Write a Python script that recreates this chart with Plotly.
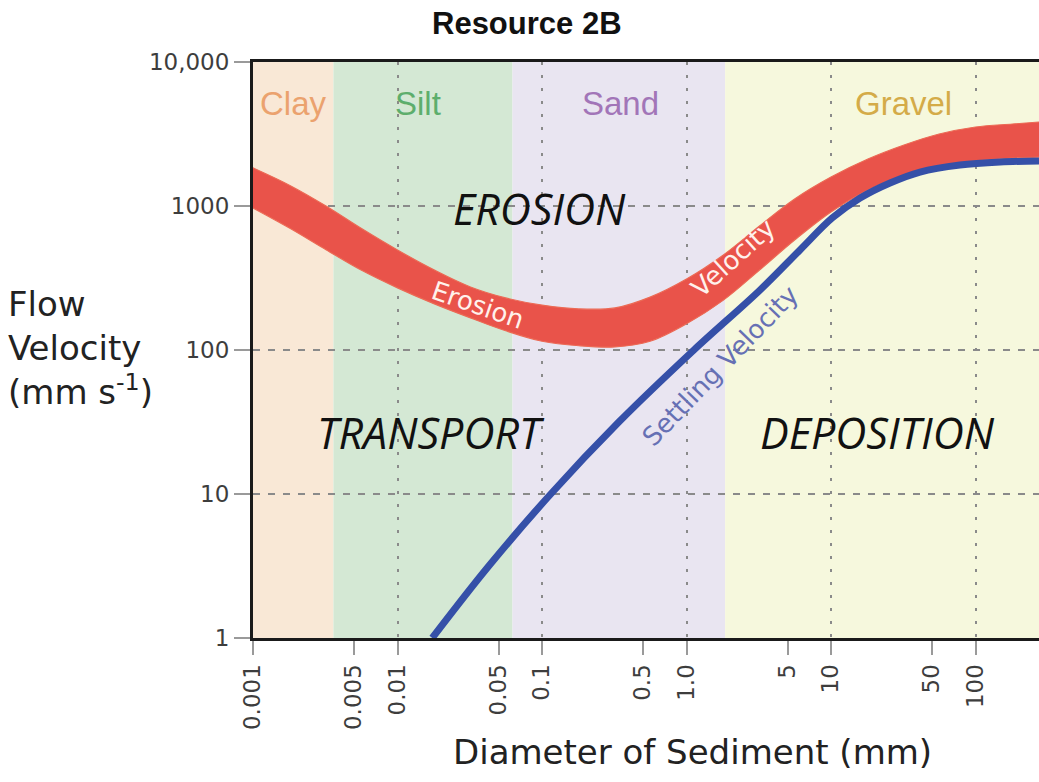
import numpy as np
import plotly.graph_objects as go

# ---------------- data ----------------
class_names = ["Clay", "Silt", "Sand", "Gravel"]
class_bounds = [0.001, 0.0036, 0.0625, 1.85, 1000]
class_fill = ["#F9E8D6", "#D4E8D4", "#E9E5F1", "#F6F8DD"]
class_text_color = ["#EBA26E", "#5DAE6C", "#A275B8", "#D4AB48"]

# erosion velocity band (diameter mm, upper / lower edge in mm/s)
eros_d = [0.001, 0.0018, 0.0032, 0.0056, 0.01, 0.018, 0.032, 0.056, 0.1, 0.18, 0.32, 0.56,
          1.0, 1.8, 3.2, 5.6, 10, 18, 32, 56, 100, 180, 275]
eros_upper = [1840, 1390, 1000, 700, 495, 359, 274, 230, 205, 193, 196, 233,
              311, 457, 726, 1119, 1589, 2119, 2652, 3162, 3538, 3710, 3830]
eros_lower = [968, 700, 497, 359, 270, 209, 167, 136, 115, 107, 105, 115,
              152, 222, 359, 580, 908, 1291, 1641, 1896, 2054, 2154, 2188]

# settling velocity line
settle_d = [0.0174, 0.0428, 0.115, 0.34, 1.125, 3.23, 6.1, 10.2, 15.9, 25.6, 41.3, 78, 148, 275]
settle_v = [1, 3.16, 10, 31.6, 100, 261, 495, 826, 1136, 1445, 1722, 1927, 2022, 2054]

x_tick_vals = [0.001, 0.005, 0.01, 0.05, 0.1, 0.5, 1, 5, 10, 50, 100]
x_tick_text = ["0.001", "0.005", "0.01", "0.05", "0.1", "0.5", "1.0", "5", "10", "50", "100"]
x_grid_vals = [0.01, 0.1, 1, 10, 100]
y_tick_vals = [1, 10, 100, 1000, 10000]
y_tick_text = ["1", "10", "100", "1000", "10,000"]

X_MAX = 275

fig = go.Figure()

# erosion band
fig.add_trace(go.Scatter(x=eros_d, y=eros_lower, mode="lines",
                         line=dict(color="#EC6A55", width=1.2, shape="spline", smoothing=1.0),
                         hoverinfo="skip", showlegend=False))
fig.add_trace(go.Scatter(x=eros_d, y=eros_upper, mode="lines", fill="tonexty",
                         fillcolor="#E9534A",
                         line=dict(color="#EC6A55", width=1.2, shape="spline", smoothing=1.0),
                         hoverinfo="skip", showlegend=False))
# settling velocity line (on overlay axis carrying the dotted grid)
fig.add_trace(go.Scatter(x=settle_d, y=settle_v, mode="lines", xaxis="x2",
                         line=dict(color="#3550A8", width=7, shape="spline", smoothing=1.0),
                         hoverinfo="skip", showlegend=False))

# size-class background bands
for i, name in enumerate(class_names):
    fig.add_shape(type="rect", xref="x", yref="paper",
                  x0=class_bounds[i], x1=class_bounds[i + 1], y0=0, y1=1,
                  fillcolor=class_fill[i], line=dict(width=0), layer="below")

ann = []
label_x = [-2.72, -1.86, -0.46, 1.50]
for i, name in enumerate(class_names):
    ann.append(dict(x=label_x[i], y=3.715, xref="x", yref="y", text=name, showarrow=False,
                    font=dict(family="Liberation Sans", size=33, color=class_text_color[i])))

big_font = dict(family="Open Sans", size=43, color="#111111")
for txt, xx, yy in [("<i>EROSION</i>", -1.014, 2.98),
                    ("<i>TRANSPORT</i>", -1.77, 1.43),
                    ("<i>DEPOSITION</i>", 1.325, 1.43)]:
    ann.append(dict(x=xx, y=yy, xref="x", yref="y", text=txt, showarrow=False, font=big_font))

ann.append(dict(x=-1.443, y=2.31, xref="x", yref="y", text="Erosion", showarrow=False,
                textangle=19, font=dict(family="DejaVu Sans", size=26, color="#FFF1EC")))
ann.append(dict(x=0.322, y=2.64, xref="x", yref="y", text="Velocity", showarrow=False,
                textangle=-42, font=dict(family="DejaVu Sans", size=26, color="#FFF1EC")))
ann.append(dict(x=0.232, y=1.889, xref="x", yref="y", text="Settling Velocity", showarrow=False,
                textangle=-46, font=dict(family="DejaVu Sans", size=26, color="#6670B4")))

# titles
ann.append(dict(x=(527 - 253) / 786, y=(638 - 23) / 576, xref="paper", yref="paper",
                text="<b>Resource 2B</b>",
                showarrow=False, xanchor="center", yanchor="middle",
                font=dict(family="Liberation Sans", size=31, color="#111111")))
ann.append(dict(x=(6 - 253) / 786, y=(638 - 348) / 576, xref="paper", yref="paper",
                text="Flow<br>Velocity<br>(mm s<sup>-1</sup>)", align="left",
                showarrow=False, xanchor="left", yanchor="middle",
                font=dict(family="DejaVu Sans", size=34, color="#222222")))
ann.append(dict(x=(692 - 253) / 786, y=(638 - 752) / 576, xref="paper", yref="paper",
                text="Diameter of Sediment (mm)", showarrow=False,
                xanchor="center", yanchor="middle",
                font=dict(family="DejaVu Sans", size=34, color="#222222")))

tick_font = dict(family="DejaVu Sans", size=23, color="#3d3d3d")
fig.update_layout(
    width=1039, height=782,
    margin=dict(l=253, r=0, t=62, b=144, autoexpand=False),
    paper_bgcolor="white", plot_bgcolor="white",
    showlegend=False,
    annotations=ann,
    xaxis=dict(type="log", range=[-3, np.log10(X_MAX)], tickvals=x_tick_vals, ticktext=x_tick_text,
               tickangle=-90, ticks="outside", ticklen=14, tickcolor="#9a9a9a", tickwidth=1.5,
               showgrid=False, zeroline=False, showline=True, linecolor="#1a1a1a", linewidth=3,
               mirror=True, tickfont=tick_font, automargin=False),
    xaxis2=dict(type="log", overlaying="x", matches="x", range=[-3, np.log10(X_MAX)],
                tickvals=x_grid_vals, showgrid=True, griddash="3px,10px", gridcolor="#8a8a8a",
                gridwidth=2, showticklabels=False, ticks="", showline=False, zeroline=False,
                automargin=False),
    yaxis=dict(type="log", range=[0, 4], tickvals=y_tick_vals, ticktext=y_tick_text,
               showgrid=True, griddash="7px,8px", gridcolor="#8a8a8a", gridwidth=2,
               ticks="outside", ticklen=16, tickcolor="#9a9a9a", tickwidth=1.5,
               showline=True, linecolor="#1a1a1a", linewidth=3, zeroline=False,
               tickfont=tick_font, automargin=False),
)

fig.write_html("out.html", config={"displayModeBar": False},
               post_script="document.body.style.margin='0px';document.body.style.overflow='hidden';")
